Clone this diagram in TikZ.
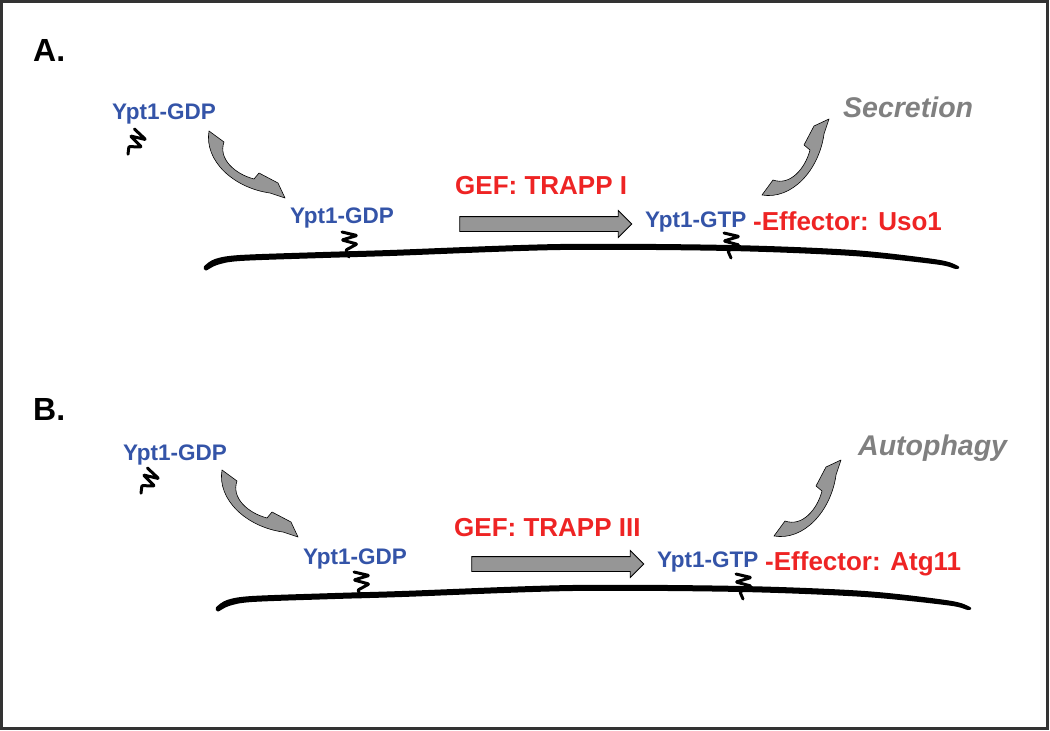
\documentclass[tikz,border=0pt]{standalone}
\usepackage{fontspec}
\setmainfont{Liberation Sans}
\usetikzlibrary{shapes.arrows}
\definecolor{gdpblue}{RGB}{52,84,168}
\definecolor{gefred}{RGB}{238,36,36}
\definecolor{fategray}{RGB}{128,128,128}
\definecolor{arrowgray}{RGB}{150,150,150}
\tikzset{
  panellabel/.style={anchor=base west,inner sep=0pt,
                     font=\fontsize{32}{38}\selectfont\bfseries},
  rablabel/.style={anchor=base west,inner sep=0pt,text=gdpblue,
                   font=\fontsize{22.5}{27}\selectfont\bfseries},
  factorlabel/.style={anchor=base west,inner sep=0pt,text=gefred,
                      font=\fontsize{26}{31}\selectfont\bfseries},
  fatelabel/.style={anchor=base west,inner sep=0pt,text=fategray,
                    font=\fontsize{28.5}{34}\selectfont\bfseries\itshape},
  exchange/.style={single arrow,draw=black,line width=0.8pt,fill=arrowgray,
                   minimum height=172pt,inner xsep=0pt,inner ysep=7pt,
                   single arrow head extend=6pt},
  lipid/.pic={
    \draw[line width=3pt,line join=round,line cap=round,rounded corners=0.8pt]
      (-7,-19) -- (8,-15.5) -- (-7,-11) -- (8,-7) -- (-3,-1) -- (0,6);
  },
  bendarrow/.pic={
    \filldraw[fill=arrowgray,draw=black,line width=0.6pt,line join=round]
      (0,0) -- (15,11) .. controls (9,28) and (26,43) .. (45,48)
      -- (50,42) -- (69,52) -- (76,67) -- (61,62)
      .. controls (25,57) and (-5,30) .. (0,0) -- cycle;
  },
  membrane/.pic={
    \fill plot[smooth cycle,tension=0.5] coordinates {
      (-1,-1.5) (10,-9) (35,-13) (118,-16) (185,-18) (355,-24)
      (525,-23) (648,-18) (732,-8.5) (753,-2)
      (751,1) (732,-3.5) (648,-12) (525,-17) (355,-18)
      (185,-12) (118,-10) (35,-7) (12,-3) (1,2.5)};
  },
}

\begin{document}
\begin{tikzpicture}[x=1pt,y=-1pt]
  \useasboundingbox (0,0) rectangle (1050,731);
  \draw[line width=2.2pt,draw=black!80] (1.5,1.5) rectangle (1047.5,728.5);

  % panel A
  \node[panellabel] (labA) at (33,61) {A.};
  \node[rablabel] (gdpfreeA) at (112,119) {Ypt1-GDP};
  \pic[rotate=-30] at (131,149) {lipid};
  \pic at (209,131) {bendarrow};
  \node[rablabel] (gdpmemA) at (290,223) {Ypt1-GDP};
  \pic at (205,268) {membrane};
  \pic at (349,251) {lipid};
  \node[factorlabel] (gefA) at (455,194) {GEF: TRAPP I};
  \node[exchange] (exchA) at (542,224) {};
  \node[rablabel] (gtpA) at (645,227) {Ypt1-GTP};
  \pic at (731,252) {lipid};
  \node[factorlabel] (effA) at (753,230) {-Effector: Uso1};
  \pic[rotate=90] at (762,195) {bendarrow};
  \node[fatelabel] (fateA) at (843,117) {Secretion};

  % panel B
  \node[panellabel] (labB) at (33,420) {B.};
  \node[rablabel] (gdpfreeB) at (123,460) {Ypt1-GDP};
  \pic[rotate=-30] at (144,488) {lipid};
  \pic at (222,470) {bendarrow};
  \node[rablabel] (gdpmemB) at (303,564) {Ypt1-GDP};
  \pic at (217,609) {membrane};
  \pic at (361,591) {lipid};
  \node[factorlabel] (gefB) at (454,536) {GEF: TRAPP III};
  \node[exchange] (exchB) at (554,564) {};
  \node[rablabel] (gtpB) at (657,567) {Ypt1-GTP};
  \pic at (743,593) {lipid};
  \node[factorlabel] (effB) at (765,570) {-Effector: Atg11};
  \pic[rotate=90] at (774,536) {bendarrow};
  \node[fatelabel] (fateB) at (858,455) {Autophagy};
\end{tikzpicture}
\end{document}
